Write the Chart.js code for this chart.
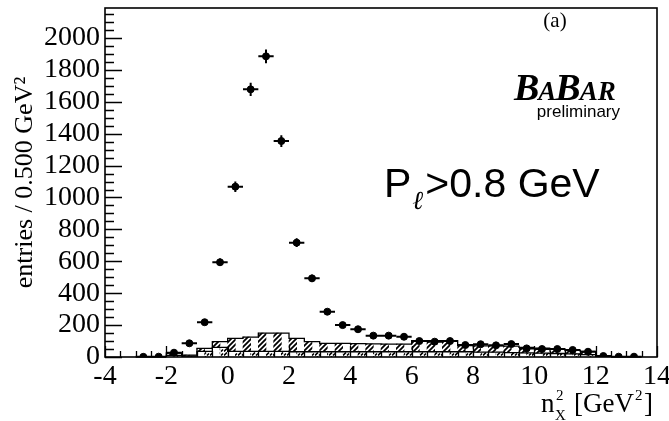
<!DOCTYPE html>
<html>
<head>
<meta charset="utf-8">
<script src="https://cdn.jsdelivr.net/npm/chart.js@4/dist/chart.umd.min.js"></script>
<style>
  html, body { margin: 0; padding: 0; background: #fff; }
  #wrap { width: 669px; height: 421px; }
</style>
</head>
<body>
<div id="wrap"><canvas id="c" width="669" height="421"></canvas></div>
<script>
// data points (bin centres, 0.5 GeV^2 bins)
var ptX = [-2.75, -2.25, -1.75, -1.25, -0.75, -0.25, 0.25, 0.75, 1.25, 1.75, 2.25, 2.75, 3.25, 3.75, 4.25, 4.75,
  5.25, 5.75, 6.25, 6.75, 7.25, 7.75, 8.25, 8.75, 9.25, 9.75, 10.25, 10.75, 11.25, 11.75, 12.25, 12.75, 13.25];
var ptY = [1, 2, 27, 86, 218, 594, 1068, 1678, 1885, 1354, 717, 493, 284, 200, 174, 134,
  134, 127, 100, 96, 100, 75, 80, 73, 81, 54, 50, 50, 44, 33, 6, 2, 2];
var ptErr = [1, 1, 5, 9, 15, 24, 33, 41, 43, 37, 27, 22, 17, 14, 13, 12,
  12, 11, 10, 10, 10, 9, 9, 9, 9, 7, 7, 7, 7, 6, 2, 1, 1];
var binHalf = 0.25;

// background histograms
var histX = [-1.75, -1.25, -0.75, -0.25, 0.25, 0.75, 1.25, 1.75, 2.25, 2.75, 3.25, 3.75, 4.25, 4.75,
  5.25, 5.75, 6.25, 6.75, 7.25, 7.75, 8.25, 8.75, 9.25, 9.75, 10.25, 10.75, 11.25, 11.75];
var bkgLow = [10, 5, 35, 60, 35, 35, 35, 35, 33, 33, 33, 33, 33, 33,
  33, 33, 33, 33, 33, 33, 30, 30, 28, 26, 24, 22, 20, 15];
var bkgHatch = [15, 7, 19, 36, 82, 90, 115, 115, 84, 63, 53, 53, 51, 49,
  48, 48, 69, 69, 69, 39, 40, 40, 40, 34, 31, 28, 22, 20];

var xTicks = [-4, -2, 0, 2, 4, 6, 8, 10, 12, 14];
var yTicks = [0, 200, 400, 600, 800, 1000, 1200, 1400, 1600, 1800, 2000];

var serif = '"Liberation Serif", "DejaVu Serif", serif';
var sans = '"Liberation Sans", Arial, sans-serif';

function makeHatch() {
  var p = document.createElement('canvas');
  p.width = 5; p.height = 5;
  var g = p.getContext('2d');
  g.fillStyle = '#fff'; g.fillRect(0, 0, 5, 5);
  g.strokeStyle = '#000'; g.lineWidth = 1.8;
  g.beginPath();
  g.moveTo(-1, 6); g.lineTo(6, -1);
  g.moveTo(-3, 3); g.lineTo(3, -3);
  g.moveTo(2, 8); g.lineTo(8, 2);
  g.stroke();
  return g.createPattern(p, 'repeat');
}
function makeBrick() {
  var p = document.createElement('canvas');
  p.width = 7; p.height = 4;
  var g = p.getContext('2d');
  g.fillStyle = '#fff'; g.fillRect(0, 0, 7, 4);
  g.strokeStyle = '#000'; g.lineWidth = 1.6;
  g.beginPath();
  g.moveTo(0, 3.5); g.lineTo(3, 0.5);
  g.moveTo(4, 3.5); g.lineTo(6, 1.5);
  g.stroke();
  return g.createPattern(p, 'repeat');
}

var lowData = histX.map(function (x, i) { return { x: x, y: bkgLow[i] }; });
var hatchData = histX.map(function (x, i) { return { x: x, y: [bkgLow[i], bkgLow[i] + bkgHatch[i]] }; });
var ptData = ptX.map(function (x, i) { return { x: x, y: ptY[i] }; });

function stepPath(ctx, xs, tops, sx, sy) {
  ctx.beginPath();
  ctx.moveTo(sx.getPixelForValue(xs[0] - binHalf), sy.getPixelForValue(0));
  for (var i = 0; i < xs.length; i++) {
    ctx.lineTo(sx.getPixelForValue(xs[i] - binHalf), sy.getPixelForValue(tops[i]));
    ctx.lineTo(sx.getPixelForValue(xs[i] + binHalf), sy.getPixelForValue(tops[i]));
  }
  ctx.lineTo(sx.getPixelForValue(xs[xs.length - 1] + binHalf), sy.getPixelForValue(0));
  ctx.stroke();
}

var rootStyle = {
  id: 'rootStyle',
  afterDatasetsDraw: function (chart) {
    var ctx = chart.ctx, sx = chart.scales.x, sy = chart.scales.y, a = chart.chartArea;
    ctx.save();
    ctx.strokeStyle = '#000';
    ctx.lineWidth = 1.3;
    var totals = bkgLow.map(function (v, i) { return v + bkgHatch[i]; });
    stepPath(ctx, histX, totals, sx, sy);
    stepPath(ctx, histX, bkgLow, sx, sy);
    // error bars
    ctx.lineWidth = 2;
    for (var i = 0; i < ptX.length; i++) {
      var px = sx.getPixelForValue(ptX[i]), py = sy.getPixelForValue(ptY[i]);
      ctx.beginPath();
      ctx.moveTo(sx.getPixelForValue(ptX[i] - binHalf), py);
      ctx.lineTo(sx.getPixelForValue(ptX[i] + binHalf), py);
      ctx.moveTo(px, sy.getPixelForValue(ptY[i] - ptErr[i]));
      ctx.lineTo(px, sy.getPixelForValue(ptY[i] + ptErr[i]));
      ctx.stroke();
    }
    // frame
    ctx.lineWidth = 1.6;
    ctx.strokeRect(a.left, a.top, a.right - a.left, a.bottom - a.top);
    // ticks (inside, ROOT style)
    ctx.lineWidth = 1.3;
    ctx.beginPath();
    for (var v = 0; v <= sy.max; v += 50) {
      var yy = Math.round(sy.getPixelForValue(v)) + 0.5;
      var len = (v % 200 === 0) ? 17 : 9;
      ctx.moveTo(a.left, yy); ctx.lineTo(a.left + len, yy);
    }
    for (var u = sx.min; u <= sx.max + 1e-6; u += 0.5) {
      var xx = Math.round(sx.getPixelForValue(u)) + 0.5;
      var l2 = (Math.abs(u % 2) < 1e-6) ? 11 : 6;
      ctx.moveTo(xx, a.bottom); ctx.lineTo(xx, a.bottom - l2);
    }
    ctx.stroke();
    ctx.restore();
  },
  afterDraw: function (chart) {
    var ctx = chart.ctx;
    ctx.save();
    ctx.fillStyle = '#000';
    ctx.textBaseline = 'alphabetic';
    // x axis title: n^2_X [GeV^2]
    ctx.font = '27px ' + serif;
    ctx.textAlign = 'left';
    ctx.fillText('n', 541, 412);
    ctx.font = '15px ' + serif;
    ctx.fillText('2', 556, 400);
    ctx.fillText('X', 555, 420);
    ctx.font = '27px ' + serif;
    ctx.fillText('[GeV', 574, 412);
    var w = ctx.measureText('[GeV').width;
    ctx.font = '15px ' + serif;
    ctx.fillText('2', 575 + w, 400);
    ctx.font = '27px ' + serif;
    ctx.fillText(']', 575 + w + 9, 412);
    // (a)
    ctx.font = '21px ' + serif;
    ctx.textAlign = 'center';
    ctx.fillText('(a)', 555, 27);
    // BaBar logo
    ctx.textAlign = 'left';
    var bx = 514;
    var parts = [['B', 38], ['A', 27], ['B', 38], ['AR', 27]];
    parts.forEach(function (p) {
      ctx.font = 'italic bold ' + p[1] + 'px ' + serif;
      ctx.fillText(p[0], bx, 100);
      bx += ctx.measureText(p[0]).width - 1;
    });
    ctx.font = '17px ' + sans;
    ctx.textAlign = 'right';
    ctx.fillText('preliminary', 620, 117);
    // P_l > 0.8 GeV
    ctx.textAlign = 'left';
    ctx.font = '41px ' + sans;
    ctx.fillText('P', 384, 197);
    var pw = ctx.measureText('P').width;
    ctx.font = 'italic 26px ' + serif;
    ctx.fillText('\u2113', 384 + pw + 1, 209);
    ctx.font = '41px ' + sans;
    ctx.fillText('>0.8 GeV', 384 + pw + 14, 197);
    ctx.restore();
  }
};

new Chart(document.getElementById('c'), {
  type: 'bar',
  data: {
    datasets: [
      {
        label: 'data',
        type: 'line',
        data: ptData,
        showLine: false,
        pointRadius: 3.5,
        pointBackgroundColor: '#000',
        pointBorderColor: '#000',
        order: 0
      },
      {
        label: 'bkg low',
        data: lowData,
        backgroundColor: makeBrick(),
        borderWidth: 0,
        barPercentage: 1,
        categoryPercentage: 1,
        order: 2
      },
      {
        label: 'bkg hatched',
        data: hatchData,
        backgroundColor: makeHatch(),
        borderWidth: 0,
        barPercentage: 1,
        categoryPercentage: 1,
        order: 1
      }
    ]
  },
  options: {
    responsive: false,
    animation: false,
    events: [],
    layout: { padding: { top: 8, right: 12, left: 0, bottom: 0 } },
    plugins: { legend: { display: false }, tooltip: { enabled: false } },
    scales: {
      x: {
        type: 'linear',
        min: -4,
        max: 14,
        offset: false,
        grid: { display: false, drawTicks: false },
        border: { display: false },
        afterBuildTicks: function (s) { s.ticks = xTicks.map(function (v) { return { value: v }; }); },
        afterFit: function (s) { s.height = 64; s.paddingLeft = 0; s.paddingRight = 0; },
        ticks: {
          padding: 3,
          maxRotation: 0,
          autoSkip: false,
          color: '#000',
          font: { family: serif, size: 28 },
          callback: function (v) { return String(v); }
        }
      },
      y: {
        min: 0,
        max: 2188,
        grid: { display: false, drawTicks: false },
        border: { display: false },
        afterBuildTicks: function (s) { s.ticks = yTicks.map(function (v) { return { value: v }; }); },
        afterFit: function (s) { s.width = 105; s.paddingTop = 0; s.paddingBottom = 0; },
        ticks: {
          padding: 5,
          autoSkip: false,
          color: '#000',
          font: { family: serif, size: 28 },
          callback: function (v) { return String(v); }
        },
        title: {
          display: true,
          text: 'entries / 0.500 GeV\u00b2',
          color: '#000',
          padding: { top: 10, bottom: 0 },
          font: { family: serif, size: 26 }
        }
      }
    }
  },
  plugins: [rootStyle]
});
</script>
</body>
</html>
